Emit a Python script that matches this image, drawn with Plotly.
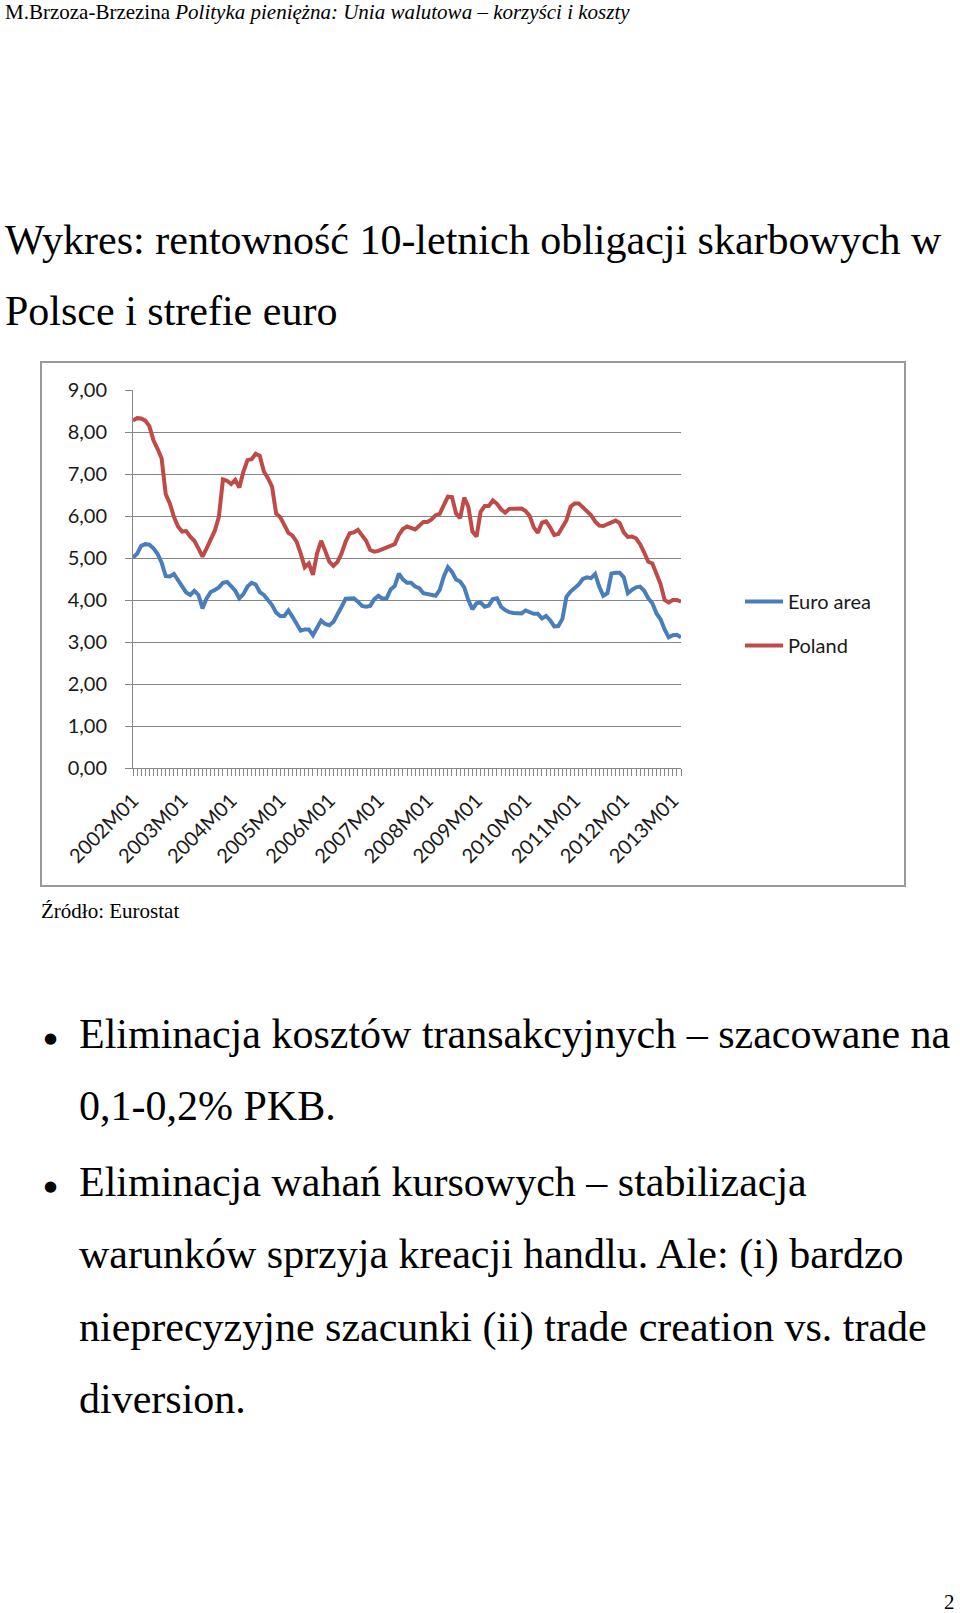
import plotly.graph_objects as go

# ---------------- data ----------------
years = list(range(2002, 2014))
month_labels = ["2002M01", "2003M01", "2004M01", "2005M01", "2006M01", "2007M01",
                "2008M01", "2009M01", "2010M01", "2011M01", "2012M01", "2013M01"]
categories = [f"{y}M{m:02d}" for y in years for m in range(1, 13)][:135]

euro_area = [5.01, 5.10, 5.29, 5.33, 5.32, 5.23, 5.10, 4.89, 4.57, 4.56, 4.62, 4.48,
             4.33, 4.18, 4.12, 4.22, 4.12, 3.80, 4.04, 4.19, 4.24, 4.30, 4.41, 4.43,
             4.33, 4.22, 4.04, 4.14, 4.32, 4.41, 4.37, 4.19, 4.12, 4.00, 3.88, 3.70,
             3.62, 3.62, 3.75, 3.60, 3.44, 3.27, 3.30, 3.30, 3.16, 3.35, 3.51, 3.43,
             3.40, 3.48, 3.64, 3.84, 4.03, 4.04, 4.04, 3.96, 3.86, 3.84, 3.86, 4.02,
             4.10, 4.03, 4.04, 4.25, 4.33, 4.63, 4.49, 4.41, 4.41, 4.32, 4.28, 4.16,
             4.14, 4.10, 4.10, 4.24, 4.56, 4.78, 4.67, 4.49, 4.44, 4.30, 4.00, 3.78,
             3.92, 3.94, 3.84, 3.87, 4.02, 4.04, 3.84, 3.76, 3.71, 3.69, 3.68, 3.68,
             3.75, 3.71, 3.67, 3.67, 3.56, 3.62, 3.52, 3.37, 3.38, 3.55, 4.08, 4.20,
             4.28, 4.37, 4.50, 4.54, 4.52, 4.62, 4.32, 4.10, 4.16, 4.63, 4.65, 4.65,
             4.54, 4.16, 4.24, 4.30, 4.32, 4.22, 4.04, 3.92, 3.68, 3.54, 3.30, 3.11,
             3.16, 3.17, 3.11]

poland = [8.27, 8.33, 8.32, 8.27, 8.14, 7.80, 7.60, 7.37, 6.52, 6.30, 5.98, 5.75,
          5.63, 5.64, 5.51, 5.41, 5.23, 5.03, 5.23, 5.43, 5.65, 5.98, 6.87, 6.84,
          6.76, 6.86, 6.68, 7.06, 7.33, 7.35, 7.48, 7.43, 7.06, 6.90, 6.70, 6.06,
          5.97, 5.79, 5.60, 5.53, 5.39, 5.11, 4.78, 4.87, 4.60, 5.11, 5.41, 5.17,
          4.91, 4.81, 4.91, 5.11, 5.39, 5.59, 5.61, 5.67, 5.53, 5.41, 5.19, 5.15,
          5.17, 5.21, 5.23, 5.27, 5.33, 5.55, 5.69, 5.75, 5.72, 5.68, 5.77, 5.86,
          5.86, 5.92, 6.02, 6.05, 6.26, 6.46, 6.45, 6.06, 5.95, 6.44, 6.22, 5.63,
          5.51, 6.10, 6.24, 6.24, 6.37, 6.29, 6.16, 6.08, 6.17, 6.17, 6.18, 6.18,
          6.12, 6.00, 5.73, 5.60, 5.84, 5.87, 5.73, 5.55, 5.57, 5.76, 5.90, 6.22,
          6.30, 6.30, 6.21, 6.12, 6.02, 5.87, 5.77, 5.76, 5.80, 5.83, 5.89, 5.83,
          5.61, 5.50, 5.51, 5.47, 5.33, 5.13, 4.91, 4.87, 4.65, 4.38, 4.00, 3.94,
          4.00, 4.00, 3.96]

y_ticks = [0, 1, 2, 3, 4, 5, 6, 7, 8, 9]

# ---------------- layout geometry (pixels) ----------------
W, H = 960, 1613
L, R, T, B = 133, 681, 390, 768          # plot area edges in page pixels


def px(x):
    return (x - L) / (R - L)


def py(y):
    return (B - y) / (B - T)


xs = list(range(len(categories)))
tick_text = [c if c in month_labels else "" for c in categories]

fig = go.Figure()
fig.add_trace(go.Scatter(x=xs, y=euro_area, mode="lines", name="Euro area",
                         line=dict(color="#4A7EBB", width=4), legendgroup="a"))
fig.add_trace(go.Scatter(x=xs, y=poland, mode="lines", name="Poland",
                         line=dict(color="#BE4B48", width=4), legendgroup="b"))

tick_font = dict(family="Lato, Open Sans, sans-serif", size=20, color="#1a1a1a")
serif = "Liberation Serif, Times New Roman, serif"

fig.update_layout(
    width=W, height=H,
    margin=dict(l=L, r=W - R, t=T, b=H - B, pad=0),
    paper_bgcolor="white", plot_bgcolor="white",
    separators=", ",
    showlegend=True,
    legend=dict(x=px(740), y=py(582), xanchor="left", yanchor="top",
                font=dict(family="Lato, Open Sans, sans-serif", size=20, color="#1a1a1a"),
                bgcolor="rgba(0,0,0,0)", tracegroupgap=15, traceorder="grouped",
                itemwidth=38),
    xaxis=dict(range=[0, len(categories) - 1], tickmode="array", tickvals=xs,
               ticktext=tick_text, tickangle=-45, ticks="outside", ticklen=7,
               tickcolor="#868686", showgrid=False, zeroline=False,
               showline=True, linecolor="#868686", linewidth=1,
               tickfont=tick_font, ticklabelstandoff=5),
    yaxis=dict(range=[0, 9], tickmode="array", tickvals=y_ticks, tickformat=".2f",
               ticks="outside", ticklen=7, tickcolor="#868686",
               showgrid=True, gridcolor="#868686", gridwidth=1, zeroline=False,
               showline=True, linecolor="#868686", linewidth=1,
               tickfont=tick_font, ticklabelstandoff=14),
)

# chart frame
fig.add_shape(type="rect", xref="paper", yref="paper",
              x0=px(41), x1=px(905), y0=py(886), y1=py(362),
              line=dict(color="#999999", width=2), fillcolor="rgba(0,0,0,0)", layer="below")


def text(x, y, s, size, anchor="left", family=serif):
    fig.add_annotation(xref="paper", yref="paper", x=px(x), y=py(y), text=s,
                       showarrow=False, xanchor=anchor, yanchor="middle",
                       font=dict(family=family, size=size, color="#000000"))


text(3, 12, "M.Brzoza-Brzezina <i>Polityka pieniężna: Unia walutowa – korzyści i koszty</i>", 21)
text(3, 240, "Wykres: rentowność 10-letnich obligacji skarbowych w", 42)
text(3, 311, "Polsce i strefie euro", 42)
text(39, 911, "Źródło: Eurostat", 21)

bullet_lines = [
    ("Eliminacja kosztów transakcyjnych – szacowane na", True),
    ("0,1-0,2% PKB.", False),
    ("Eliminacja wahań kursowych – stabilizacja", True),
    ("warunków sprzyja kreacji handlu. Ale: (i) bardzo", False),
    ("nieprecyzyjne szacunki (ii) trade creation vs. trade", False),
    ("diversion.", False),
]
line_y = [1034, 1106, 1182, 1254, 1327, 1399]
for (s, bullet), yy in zip(bullet_lines, line_y):
    text(77, yy, s, 42)
    if bullet:
        text(50, yy + 4, "●", 15, anchor="center", family="DejaVu Sans, sans-serif")

text(957, 1602, "2", 21, anchor="right")

fig.write_html("out.html")
